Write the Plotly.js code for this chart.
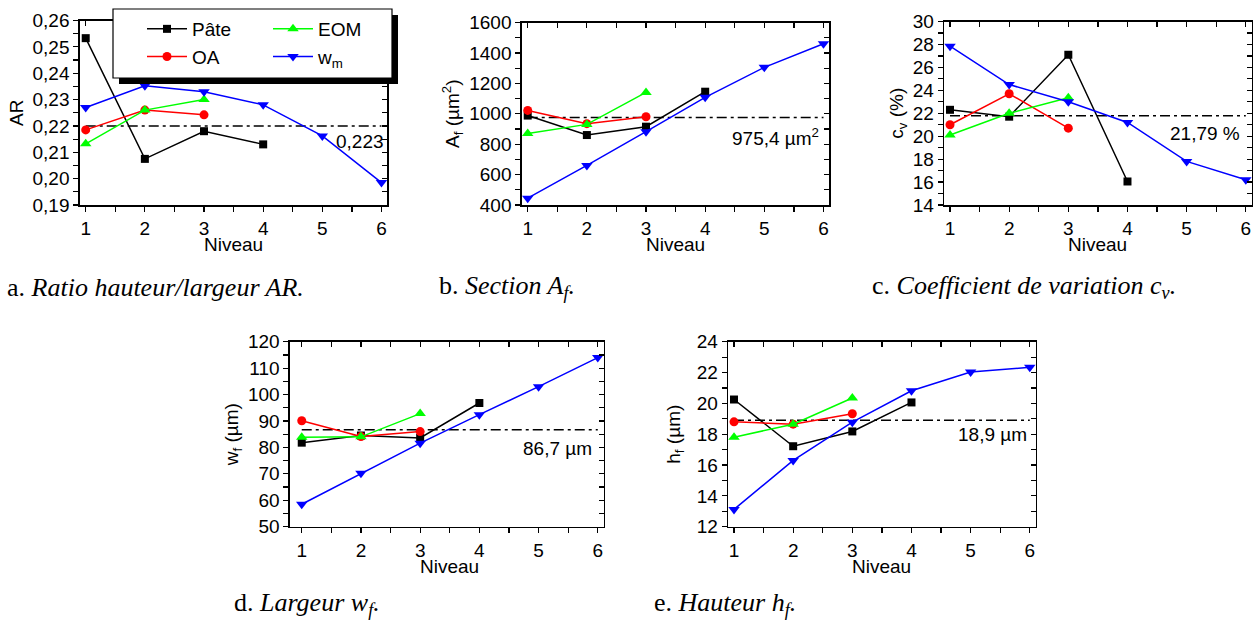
<!DOCTYPE html>
<html><head><meta charset="utf-8">
<script src="https://cdn.plot.ly/plotly-3.0.1.min.js"></script>
<style>html,body{margin:0;padding:0;background:#fff}#chart{width:1256px;height:621px}</style>
</head><body><div id="chart"></div>
<script>
// ---- data ----
const niveau = [1, 2, 3, 4, 5, 6];
const seriesNames = ['Pâte', 'OA', 'EOM', 'w<sub>m</sub>'];

const arPate = [0.2533, 0.2075, 0.2180, 0.2130];
const arOA   = [0.2185, 0.2260, 0.2242];
const arEOM  = [0.2132, 0.2260, 0.2300];
const arWm   = [0.2270, 0.2352, 0.2330, 0.2280, 0.2162, 0.1985];

const afPate = [988, 860, 915, 1145];
const afOA   = [1022, 935, 980];
const afEOM  = [870, 930, 1140];
const afWm   = [445, 660, 882, 1108, 1305, 1460];

const cvPate = [22.3, 21.7, 27.1, 16.05];
const cvOA   = [21.0, 23.7, 20.7];
const cvEOM  = [20.1, 22.0, 23.35];
const cvWm   = [27.85, 24.5, 23.0, 21.2, 17.8, 16.2];

const wfPate = [81.8, 84.5, 83.6, 96.8];
const wfOA   = [90.1, 84.1, 86.0];
const wfEOM  = [83.8, 84.0, 92.8];
const wfWm   = [58.5, 70.2, 81.6, 92.4, 103.0, 114.0];

const hfPate = [20.25, 17.22, 18.18, 20.06];
const hfOA   = [18.8, 18.65, 19.33];
const hfEOM  = [17.8, 18.65, 20.35];
const hfWm   = [13.12, 16.3, 18.78, 20.82, 22.03, 22.34];

const meanLines  = [0.220, 975.4, 21.79, 86.7, 18.9];
const meanLabels = ['0,223', '975,4 µm<sup>2</sup>', '21,79 %', '86,7 µm', '18,9 µm'];

const yTitles = ['AR', 'A<sub>f</sub> (µm<sup>2</sup>)', 'c<sub>v</sub> (%)', 'w<sub>f</sub> (µm)', 'h<sub>f</sub> (µm)'];
const xTitle = 'Niveau';
const captions = [
  'a. <i>Ratio hauteur/largeur AR.</i>',
  'b. <i>Section A<sub>f</sub>.</i>',
  'c. <i>Coefficient de variation c<sub>v</sub>.</i>',
  'd. <i>Largeur w<sub>f</sub>.</i>',
  'e. <i>Hauteur h<sub>f</sub>.</i>'
];

// ---- styling / layout ----
const W = 1256, H = 621;
const colors = ['#000000', '#ff0000', '#00ff00', '#0000ff'];
const symbols = ['square', 'circle', 'triangle-up', 'triangle-down'];
const msizes = [8, 9, 10, 10];
const legendOf = ['legend', 'legend', 'legend2', 'legend2'];
const FONT = '"Liberation Sans", Arial, sans-serif';
const SERIF = '"Liberation Serif", "Times New Roman", serif';

const panelData = [
  [arPate, arOA, arEOM, arWm],
  [afPate, afOA, afEOM, afWm],
  [cvPate, cvOA, cvEOM, cvWm],
  [wfPate, wfOA, wfEOM, wfWm],
  [hfPate, hfOA, hfEOM, hfWm]
];
// pixel boxes [left, right, top, bottom]
const boxes = [
  [79.8, 387.4, 20.5, 205],
  [521.8, 829.4, 22.5, 205],
  [944.1, 1251.7, 21.5, 205],
  [289.9, 603.7, 341.7, 526.7],
  [728.1, 1035.7, 341.7, 526.7]
];
const xRanges = [[0.9, 6.1], [0.9, 6.1], [0.9, 6.1], [0.8, 6.1], [0.9, 6.1]];
const yRanges = [[0.19, 0.26], [400, 1600], [14, 30], [50, 120], [12, 24]];
const yDticks = [0.01, 200, 2, 10, 2];
const yFormats = ['.2f', 'd', 'd', 'd', 'd'];
const yStandoffs = [4, 4, 4, 4, 11];
const labelPos = [[6.08, 0.2140], [5.95, 850], [5.93, 20.26], [5.93, 79.7], [5.98, 17.95]];
const captionPos = [[5, 287], [437, 287], [870, 287], [232, 604], [652, 604]];

const traces = [];
const legendCommon = {
  orientation: 'v', yanchor: 'top', xanchor: 'left', y: 1 - 10 / H,
  bgcolor: 'rgba(0,0,0,0)', borderwidth: 0, itemwidth: 40, tracegroupgap: 0,
  font: {family: FONT, size: 19, color: '#000'}
};
const layout = {
  width: W, height: H,
  margin: {l: 0, r: 0, t: 0, b: 0},
  paper_bgcolor: '#fff', plot_bgcolor: 'rgba(0,0,0,0)',
  font: {family: FONT, size: 19, color: '#000'},
  separators: ',.',
  showlegend: true,
  legend: Object.assign({}, legendCommon, {x: 142 / W}),
  legend2: Object.assign({}, legendCommon, {x: 268 / W}),
  annotations: [], shapes: []
};

const tickCommon = {
  ticks: 'outside', ticklen: 5, tickwidth: 1.2, tickcolor: '#000',
  showline: true, linecolor: '#000', linewidth: 1.5, showgrid: false, zeroline: false,
  tickfont: {family: FONT, size: 19}
};

for (let p = 0; p < 5; p++) {
  const k = p + 1;
  const xa = 'x' + (k === 1 ? '' : k), ya = 'y' + (k === 1 ? '' : k);
  const b = boxes[p];
  const xd = [b[0] / W, b[1] / W], yd = [1 - b[3] / H, 1 - b[2] / H];
  // mean line
  traces.push({
    x: [1, 6], y: [meanLines[p], meanLines[p]], xaxis: xa, yaxis: ya,
    mode: 'lines', showlegend: false, hoverinfo: 'skip',
    line: {color: '#000', width: 1.5, dash: '10px,4px,3px,4px'}
  });
  panelData[p].forEach((vals, s) => {
    traces.push({
      x: niveau.slice(0, vals.length), y: vals, xaxis: xa, yaxis: ya,
      name: seriesNames[s], legend: legendOf[s], showlegend: p === 0,
      mode: 'lines+markers', cliponaxis: false,
      line: {color: colors[s], width: 1.5},
      marker: {color: colors[s], symbol: symbols[s], size: msizes[s]}
    });
  });
  layout['xaxis' + (k === 1 ? '' : k)] = Object.assign({}, tickCommon, {
    domain: xd, anchor: ya, range: xRanges[p], dtick: 1, tick0: 0,
    minor: {ticks: 'outside', dtick: 0.5, ticklen: 5, tickcolor: '#000', tickwidth: 1.2},
    ticklabelstandoff: 1
  });
  layout['yaxis' + (k === 1 ? '' : k)] = Object.assign({}, tickCommon, {
    domain: yd, anchor: xa, range: yRanges[p], dtick: yDticks[p], tickformat: yFormats[p],
    minor: {ticks: 'outside', dtick: yDticks[p] / 2, ticklen: 5, tickcolor: '#000', tickwidth: 1.2},
    ticklabelstandoff: 0,
    title: {text: yTitles[p], font: {family: FONT, size: 19}, standoff: yStandoffs[p]}
  });
  // mirrored frame (top / right) with inward ticks
  const kx = k + 5;
  layout['xaxis' + kx] = Object.assign({}, tickCommon, {
    overlaying: xa, side: 'top', anchor: ya, range: xRanges[p], dtick: 1, tick0: 0,
    ticks: 'inside', showticklabels: false,
    minor: {ticks: 'inside', dtick: 0.5, ticklen: 5, tickcolor: '#000', tickwidth: 1.2}
  });
  layout['yaxis' + kx] = Object.assign({}, tickCommon, {
    overlaying: ya, side: 'right', anchor: xa, range: yRanges[p], dtick: yDticks[p],
    ticks: 'inside', showticklabels: false,
    minor: {ticks: 'inside', dtick: yDticks[p] / 2, ticklen: 5, tickcolor: '#000', tickwidth: 1.2}
  });
  // x-axis title
  layout.annotations.push({
    xref: xa, yref: 'paper', x: 3.5, y: 1 - (b[3] + 40) / H,
    xanchor: 'center', yanchor: 'middle', showarrow: false,
    text: xTitle, font: {family: FONT, size: 19, color: '#000'}
  });
  // mean label
  layout.annotations.push({
    xref: xa, yref: ya, x: labelPos[p][0], y: labelPos[p][1],
    xanchor: 'right', yanchor: 'middle', showarrow: false,
    text: meanLabels[p], font: {family: FONT, size: 19, color: '#000'}
  });
  // caption
  layout.annotations.push({
    xref: 'paper', yref: 'paper', x: captionPos[p][0] / W, y: 1 - captionPos[p][1] / H,
    xanchor: 'left', yanchor: 'middle', showarrow: false,
    text: captions[p], font: {family: SERIF, size: 26, color: '#000'}
  });
}
// dummy traces so mirrored axes are drawn
for (let p = 0; p < 5; p++) {
  const k = p + 1, kx = k + 5;
  traces.push({x: [null], y: [null], xaxis: 'x' + kx, yaxis: 'y' + (k === 1 ? '' : k), showlegend: false, hoverinfo: 'skip', mode: 'markers'});
  traces.push({x: [null], y: [null], xaxis: 'x' + (k === 1 ? '' : k), yaxis: 'y' + kx, showlegend: false, hoverinfo: 'skip', mode: 'markers'});
}
// legend frame with drop shadow
layout.shapes.push({
  type: 'rect', xref: 'paper', yref: 'paper', layer: 'above',
  x0: 119 / W, x1: 398 / W, y0: 1 - 84 / H, y1: 1 - 15 / H,
  fillcolor: '#000', line: {width: 0}
});
layout.shapes.push({
  type: 'rect', xref: 'paper', yref: 'paper', layer: 'above',
  x0: 113 / W, x1: 392 / W, y0: 1 - 78 / H, y1: 1 - 9 / H,
  fillcolor: '#fff', line: {width: 1.2, color: '#000'}
});

Plotly.newPlot('chart', traces, layout, {staticPlot: true});
</script></body></html>
